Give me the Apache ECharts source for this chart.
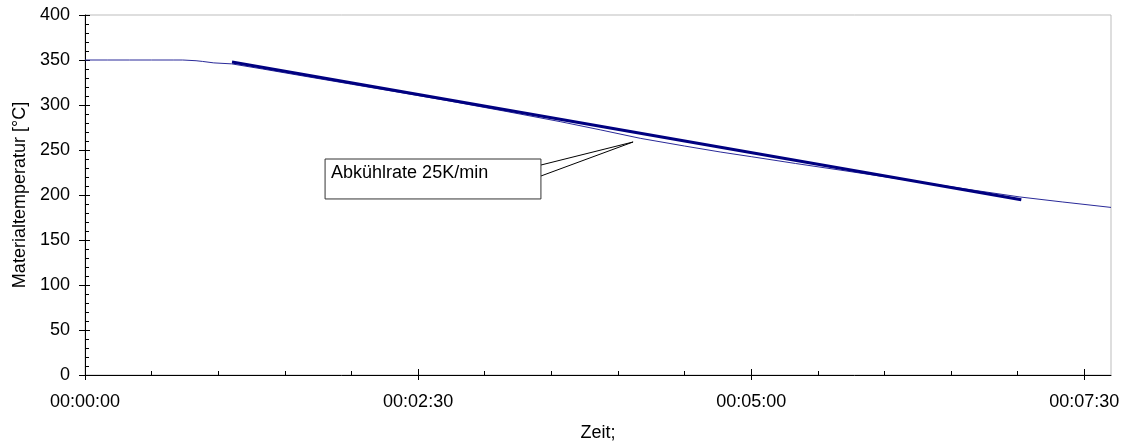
<!DOCTYPE html>
<html>
<head>
<meta charset="utf-8">
<script src="https://cdn.jsdelivr.net/npm/echarts@6/dist/echarts.min.js"></script>
<style>
html,body{margin:0;padding:0;background:#fff;}
#chart{width:1125px;height:443px;}
</style>
</head>
<body>
<div id="chart"></div>
<script>
// Measured material temperature (time in seconds, temperature in °C)
const timeMeasured = [0, 10, 20, 30, 40, 44, 50, 53, 58, 66, 80, 100, 120, 140, 164, 190, 214, 232, 250, 270, 286, 300, 320, 340, 360, 376, 400, 421, 440, 462];
const tempMeasured = [350, 350, 350, 350, 350, 350, 349.2, 348.4, 346.8, 345.7, 340.0, 331.5, 323.1, 314.7, 304.5, 292.7, 281.5, 272.4, 263.0, 254.4, 247.8, 242.6, 235.0, 227.7, 220.3, 214.4, 205.4, 197.8, 192.3, 186.2];
// Fitted cooling-rate line (25 K/min)
const timeRate = [66.2, 421.6];
const tempRate = [347.7, 194.8];
// Axis ticks
const xMajorTicks = [0, 150, 300, 450];
const xMinorTicks = [30, 60, 90, 120, 180, 210, 240, 270, 330, 360, 390, 420];
const xMax = 462;
const yMin = 0, yMax = 400, yStep = 50;
// Annotation
const annotationText = 'Abkühlrate 25K/min';
const annotationTip = [246.8, 258.9];

const FONT = '"Liberation Sans", Arial, sans-serif';
function fmtTime(s) {
  const h = Math.floor(s / 3600), m = Math.floor((s % 3600) / 60), sec = Math.round(s % 60);
  const p = n => String(n).padStart(2, '0');
  return p(h) + ':' + p(m) + ':' + p(sec);
}
const zip = (a, b) => a.map((v, i) => [v, b[i]]);

const chart = echarts.init(document.getElementById('chart'), null, {renderer: 'canvas'});
const baseX = {type: 'value', min: 0, max: xMax, position: 'bottom', splitLine: {show: false}};
const baseY = {type: 'value', min: yMin, max: yMax, interval: yStep, position: 'left', splitLine: {show: false}};
chart.setOption({
  animation: false,
  backgroundColor: '#fff',
  textStyle: {fontFamily: FONT},
  grid: {left: 85, right: 14, top: 15, bottom: 68, containLabel: false, outerBoundsMode: 'none',
         show: true, borderColor: '#bdbdbd', borderWidth: 1, backgroundColor: 'transparent'},
  xAxis: [
    Object.assign({}, baseX, {
      axisLine: {onZero: false, lineStyle: {color: '#000', width: 1}},
      axisTick: {show: true, inside: false, length: 5, customValues: xMajorTicks, lineStyle: {color: '#000'}},
      axisLabel: {customValues: xMajorTicks, formatter: v => fmtTime(v), fontSize: 18, color: '#000', fontFamily: FONT, margin: 18},
      name: 'Zeit;', nameLocation: 'middle', nameGap: 49,
      nameTextStyle: {fontSize: 18, color: '#000', fontFamily: FONT}
    }),
    Object.assign({}, baseX, {
      axisLine: {show: false, onZero: false},
      axisTick: {show: true, inside: true, length: 6, customValues: xMajorTicks, lineStyle: {color: '#000'}},
      axisLabel: {show: false}
    }),
    Object.assign({}, baseX, {
      axisLine: {show: false, onZero: false},
      axisTick: {show: true, inside: true, length: 4, customValues: xMinorTicks, lineStyle: {color: '#000'}},
      axisLabel: {show: false}
    })
  ],
  yAxis: [
    Object.assign({}, baseY, {
      axisLine: {show: true, onZero: false, lineStyle: {color: '#000', width: 1}},
      axisTick: {show: true, inside: false, length: 6, lineStyle: {color: '#000'}},
      axisLabel: {fontSize: 18, color: '#000', fontFamily: FONT, margin: 15},
      name: 'Materialtemperatur [°C]', nameLocation: 'middle', nameGap: 54, nameRotate: 90,
      nameTextStyle: {fontSize: 18, color: '#000', fontFamily: FONT}
    }),
    Object.assign({}, baseY, {
      axisLine: {show: false, onZero: false},
      axisTick: {show: true, inside: true, length: 5, lineStyle: {color: '#000'}},
      minorTick: {show: true, splitNumber: 5, length: 4, lineStyle: {color: '#000'}},
      axisLabel: {show: false}
    })
  ],
  series: [
    {
      name: 'Materialtemperatur', type: 'line', xAxisIndex: 0, yAxisIndex: 0,
      data: zip(timeMeasured, tempMeasured), showSymbol: false, symbol: 'none',
      lineStyle: {color: '#2a2a99', width: 1}, z: 2
    },
    {
      name: 'Abkühlrate', type: 'line', xAxisIndex: 0, yAxisIndex: 0,
      data: zip(timeRate, tempRate), showSymbol: false, symbol: 'none',
      lineStyle: {color: '#000080', width: 3}, z: 3
    }
  ]
});

// Callout annotation anchored to data coordinates
function px(t, v) { return chart.convertToPixel({xAxisIndex: 0, yAxisIndex: 0}, [t, v]); }
const boxTL = px(108.1, 240.0), boxBR = px(205.3, 195.6);
const tip = px(annotationTip[0], annotationTip[1]);
const c1 = px(205.3, 233.3), c2 = px(205.3, 221.1);
chart.setOption({
  graphic: [
    {type: 'polyline', z: 10, shape: {points: [c1, tip, c2]}, style: {stroke: '#000', lineWidth: 1, fill: null}},
    {type: 'rect', z: 11, shape: {x: boxTL[0], y: boxTL[1], width: boxBR[0] - boxTL[0], height: boxBR[1] - boxTL[1]},
     style: {fill: '#fff', stroke: '#333', lineWidth: 1}},
    {type: 'text', z: 12, x: boxTL[0] + 6, y: boxTL[1] + 14,
     style: {text: annotationText, fontSize: 18, fontFamily: FONT, fill: '#000', verticalAlign: 'middle', align: 'left'}}
  ]
});
</script>
</body>
</html>
